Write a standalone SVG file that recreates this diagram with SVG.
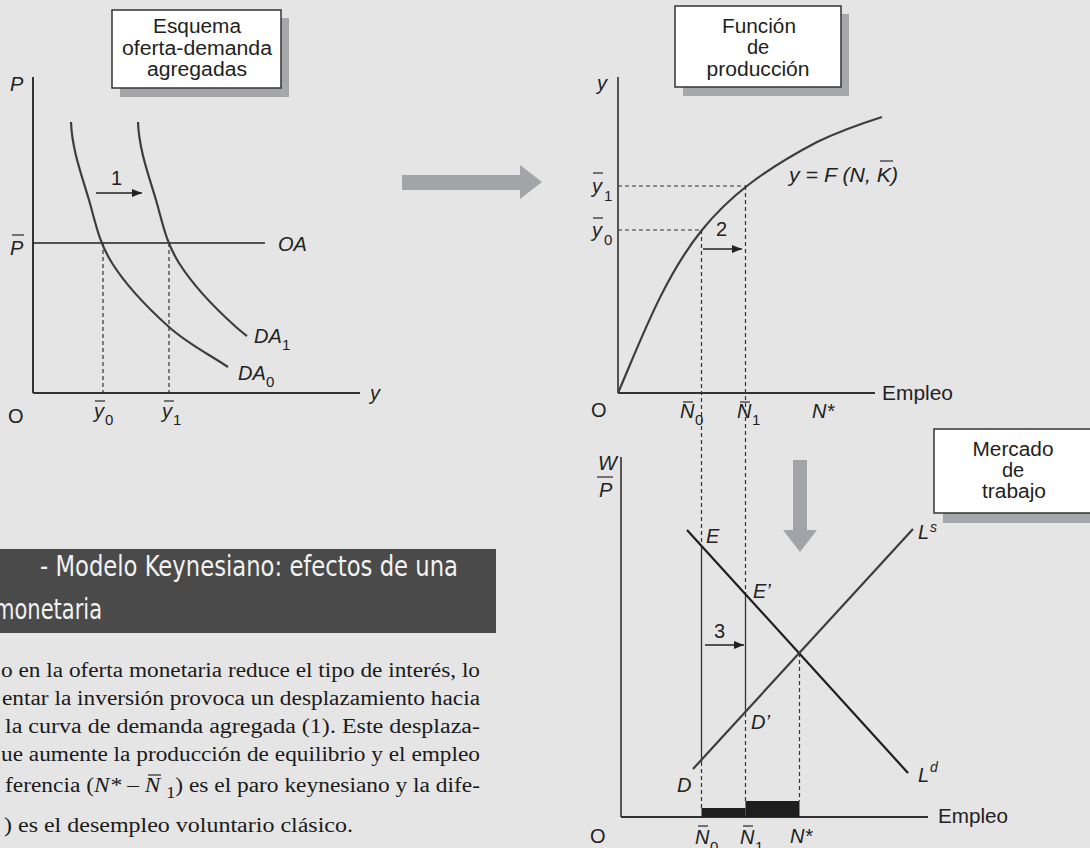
<svg xmlns="http://www.w3.org/2000/svg" width="1090" height="848" viewBox="0 0 1090 848">
<style>
.bg{fill:#e5e5e5}
.box{fill:#fff;stroke:#333;stroke-width:1.5}
.shadow{fill:#a6a7aa}
.ax{stroke:#333;stroke-width:2;fill:none}
.ax1{stroke:#222;stroke-width:1.5;fill:none}
.cv{stroke:#3d3d3d;stroke-width:2.2;fill:none}
.ld{stroke:#1e1e1e;stroke-width:2.2;fill:none}
.dash{stroke:#333;stroke-width:1.2;stroke-dasharray:4 3;fill:none}
.sol{stroke:#333;stroke-width:1.3;fill:none}
.arr{stroke:#222;stroke-width:1.4;fill:none}
.bar{stroke:#333;stroke-width:1.3}
.big{fill:#a3a4a7}
.lbl{font-family:"Liberation Sans",Arial,sans-serif;font-size:20px;fill:#222}
.bt{font-family:"Liberation Sans",Arial,sans-serif;font-size:20px;fill:#222;text-anchor:middle}
.it{font-style:italic}
.sub{font-size:15px;font-style:normal}
.sup{font-size:14px}
.body{font-family:"Liberation Serif","Times New Roman",serif;font-size:20.5px;fill:#1a1a1a}
.title{font-family:"DejaVu Sans Condensed","DejaVu Sans",sans-serif;font-size:28px;fill:#f2f2f2}
</style>
<defs>
<marker id="ah" markerUnits="userSpaceOnUse" markerWidth="11" markerHeight="9" refX="10" refY="4" orient="auto">
<path d="M0,0 L10,4 L0,8 z" fill="#222"/>
</marker>
</defs>
<rect class="bg" x="0" y="0" width="1090" height="848"/>

<!-- Aggregate supply-demand chart -->
<g id="chart-oa-da">
<line class="ax" x1="33" y1="77" x2="33" y2="393"/>
<line class="ax" x1="33" y1="393" x2="360" y2="393"/>
<line class="ax1" x1="33" y1="243" x2="265" y2="243"/>
<line class="dash" x1="103" y1="243" x2="103" y2="393"/>
<line class="dash" x1="169" y1="243" x2="169" y2="393"/>
<path class="cv" d="M71,122 C72,150 82.2,176.5 89,200 C95.8,223.5 98.7,241.8 112,263 C125.3,284.2 149.7,309.7 169,327 C188.3,344.3 208.3,353.7 228,367"/>
<path class="cv" d="M138,122 C139,150 149.2,176.5 156,200 C162.8,223.5 165.7,241.8 179,263 C192.3,284.2 216.7,309.7 236,327 C240,330.5 243.5,333.5 247,336"/>
<line class="arr" x1="96" y1="193" x2="142" y2="193" marker-end="url(#ah)"/>
<text class="lbl" x="111" y="185">1</text>
<text class="lbl it" x="10" y="91">P</text>
<text class="lbl it" x="10" y="255">P</text>
<line class="bar" x1="12" y1="235" x2="24" y2="235"/>
<text class="lbl it" x="278" y="251">OA</text>
<text class="lbl it" x="254" y="343">DA<tspan class="sub" x="282" y="350">1</tspan></text>
<text class="lbl it" x="238" y="380">DA<tspan class="sub" x="266" y="387">0</tspan></text>
<text class="lbl" x="8" y="423">O</text>
<text class="lbl it" x="94" y="418">y<tspan class="sub" x="105" y="425">0</tspan></text>
<line class="bar" x1="95" y1="401" x2="105" y2="401"/>
<text class="lbl it" x="162" y="418">y<tspan class="sub" x="173" y="425">1</tspan></text>
<line class="bar" x1="164" y1="401" x2="174" y2="401"/>
<text class="lbl it" x="370" y="400">y</text>
</g>

<g id="box-esquema">
<rect class="shadow" x="120" y="18" width="169" height="79"/>
<rect class="box" x="112" y="10" width="169" height="78"/>
<text class="bt" x="197" y="33" textLength="88" lengthAdjust="spacingAndGlyphs">Esquema</text>
<text class="bt" x="197" y="55" textLength="150" lengthAdjust="spacingAndGlyphs">oferta-demanda</text>
<text class="bt" x="197" y="76" textLength="100" lengthAdjust="spacingAndGlyphs">agregadas</text>
</g>

<!-- Production function chart -->
<g id="chart-produccion">
<line class="ax1" x1="618" y1="77" x2="618" y2="393"/>
<line class="ax" x1="618" y1="393" x2="875" y2="393"/>
<line class="dash" x1="618" y1="186" x2="746" y2="186"/>
<line class="dash" x1="618" y1="230" x2="702" y2="230"/>
<path class="cv" d="M618,393 C641.6,338 664.3,276.7 702,230 C728,198 760,172 817,142 C840,131 860,124 882,117"/>
<line class="arr" x1="703" y1="249" x2="742" y2="249" marker-end="url(#ah)"/>
<text class="lbl" x="716" y="236">2</text>
<text class="lbl it" x="597" y="90">y</text>
<text class="lbl it" x="592" y="193">y<tspan class="sub" x="604" y="201">1</tspan></text>
<line class="bar" x1="593" y1="173" x2="603" y2="173"/>
<text class="lbl it" x="592" y="237">y<tspan class="sub" x="604" y="245">0</tspan></text>
<line class="bar" x1="593" y1="218" x2="603" y2="218"/>
<text class="lbl it" x="789" y="182" textLength="109" lengthAdjust="spacingAndGlyphs">y = F (N, K)</text>
<line class="bar" x1="880" y1="161" x2="893" y2="161"/>
<text class="lbl" x="591" y="417">O</text>
<text class="lbl it" x="680" y="418">N<tspan class="sub" x="695" y="425">0</tspan></text>
<line class="bar" x1="683" y1="402" x2="693" y2="402"/>
<text class="lbl it" x="737" y="418">N<tspan class="sub" x="752" y="425">1</tspan></text>
<line class="bar" x1="740" y1="402" x2="750" y2="402"/>
<text class="lbl it" x="812" y="418">N*</text>
<text class="lbl" x="882" y="400" textLength="71" lengthAdjust="spacingAndGlyphs">Empleo</text>
</g>

<g id="box-funcion">
<rect class="shadow" x="683" y="14" width="166" height="82"/>
<rect class="box" x="675" y="6" width="166" height="81"/>
<text class="bt" x="759" y="33" textLength="74" lengthAdjust="spacingAndGlyphs">Función</text>
<text class="bt" x="758" y="54">de</text>
<text class="bt" x="758" y="76" textLength="103" lengthAdjust="spacingAndGlyphs">producción</text>
</g>

<!-- Labour market chart -->
<g id="chart-trabajo">
<line class="ax1" x1="621" y1="457" x2="621" y2="817"/>
<line class="ax" x1="621" y1="817" x2="928" y2="817"/>
<rect x="701.5" y="808" width="44" height="9" fill="#1e1e1e"/>
<rect x="745.5" y="801" width="54" height="16" fill="#1e1e1e"/>
<line class="dash" x1="701.5" y1="230" x2="701.5" y2="547"/>
<line class="sol" x1="701.5" y1="547" x2="701.5" y2="762"/>
<line class="dash" x1="701.5" y1="762" x2="701.5" y2="808"/>
<line class="dash" x1="745.5" y1="186" x2="745.5" y2="594"/>
<line class="sol" x1="745.5" y1="594" x2="745.5" y2="713"/>
<line class="dash" x1="745.5" y1="713" x2="745.5" y2="801"/>
<line class="dash" x1="799.5" y1="653" x2="799.5" y2="801"/>
<line class="ld" x1="687" y1="530" x2="908" y2="773"/>
<line class="cv" x1="693" y1="769" x2="913" y2="529"/>
<line class="arr" x1="705" y1="645" x2="744" y2="645" marker-end="url(#ah)"/>
<text class="lbl" x="714" y="638">3</text>
<text class="lbl it" x="598" y="470">W</text>
<line class="bar" x1="597" y1="477" x2="613" y2="477"/>
<text class="lbl it" x="599" y="497">P</text>
<text class="lbl it" x="706" y="543">E</text>
<text class="lbl it" x="753" y="598">E’</text>
<text class="lbl it" x="751" y="729">D’</text>
<text class="lbl it" x="677" y="792">D</text>
<text class="lbl it" x="918" y="539">L<tspan class="sup" x="930" y="532">s</tspan></text>
<text class="lbl it" x="918" y="782">L<tspan class="sup" x="930" y="772">d</tspan></text>
<text class="lbl" x="938" y="823" textLength="70" lengthAdjust="spacingAndGlyphs">Empleo</text>
<text class="lbl" x="590" y="843">O</text>
<text class="lbl it" x="695" y="844">N<tspan class="sub" x="710" y="852">0</tspan></text>
<line class="bar" x1="698" y1="826" x2="708" y2="826"/>
<text class="lbl it" x="740" y="844">N<tspan class="sub" x="755" y="852">1</tspan></text>
<line class="bar" x1="743" y1="826" x2="753" y2="826"/>
<text class="lbl it" x="790" y="843">N*</text>
</g>

<g id="box-mercado">
<rect class="shadow" x="943" y="438" width="160" height="85"/>
<rect class="box" x="934" y="429" width="170" height="84"/>
<text class="bt" x="1013" y="456" textLength="81" lengthAdjust="spacingAndGlyphs">Mercado</text>
<text class="bt" x="1013" y="477">de</text>
<text class="bt" x="1014" y="498" textLength="64" lengthAdjust="spacingAndGlyphs">trabajo</text>
</g>

<g id="connectors">
<polygon class="big" points="402,175 520,175 520,165 542,182 520,199 520,190 402,190"/>
<polygon class="big" points="793,460 807,460 807,530 817,530 800,552 783,530 793,530"/>
</g>

<g id="title-bar">
<rect x="0" y="549" width="496" height="84" fill="#4a4a4a"/>
<text class="title" x="40" y="576" textLength="418" lengthAdjust="spacingAndGlyphs">- Modelo Keynesiano: efectos de una</text>
<text class="title" x="-6" y="619" textLength="108" lengthAdjust="spacingAndGlyphs">monetaria</text>
</g>

<g id="body-text">
<text class="body" x="1" y="677" textLength="479" lengthAdjust="spacingAndGlyphs">o en la oferta monetaria reduce el tipo de interés, lo</text>
<text class="body" x="2" y="705" textLength="478" lengthAdjust="spacingAndGlyphs">entar la inversión provoca un desplazamiento hacia</text>
<text class="body" x="5" y="733" textLength="475" lengthAdjust="spacingAndGlyphs">la curva de demanda agregada (1). Este desplaza-</text>
<text class="body" x="1" y="761" textLength="479" lengthAdjust="spacingAndGlyphs">ue aumente la producción de equilibrio y el empleo</text>
<text class="body" x="5" y="792" textLength="475" lengthAdjust="spacingAndGlyphs">ferencia (<tspan font-style="italic">N*</tspan> – <tspan font-style="italic">N</tspan> <tspan dy="6" style="font-size:16px">1</tspan><tspan dy="-6">) es el paro keynesiano y la dife-</tspan></text>
<line class="bar" x1="148" y1="775" x2="161" y2="775"/>
<text class="body" x="4" y="832" textLength="349" lengthAdjust="spacingAndGlyphs">) es el desempleo voluntario clásico.</text>
</g>
</svg>
